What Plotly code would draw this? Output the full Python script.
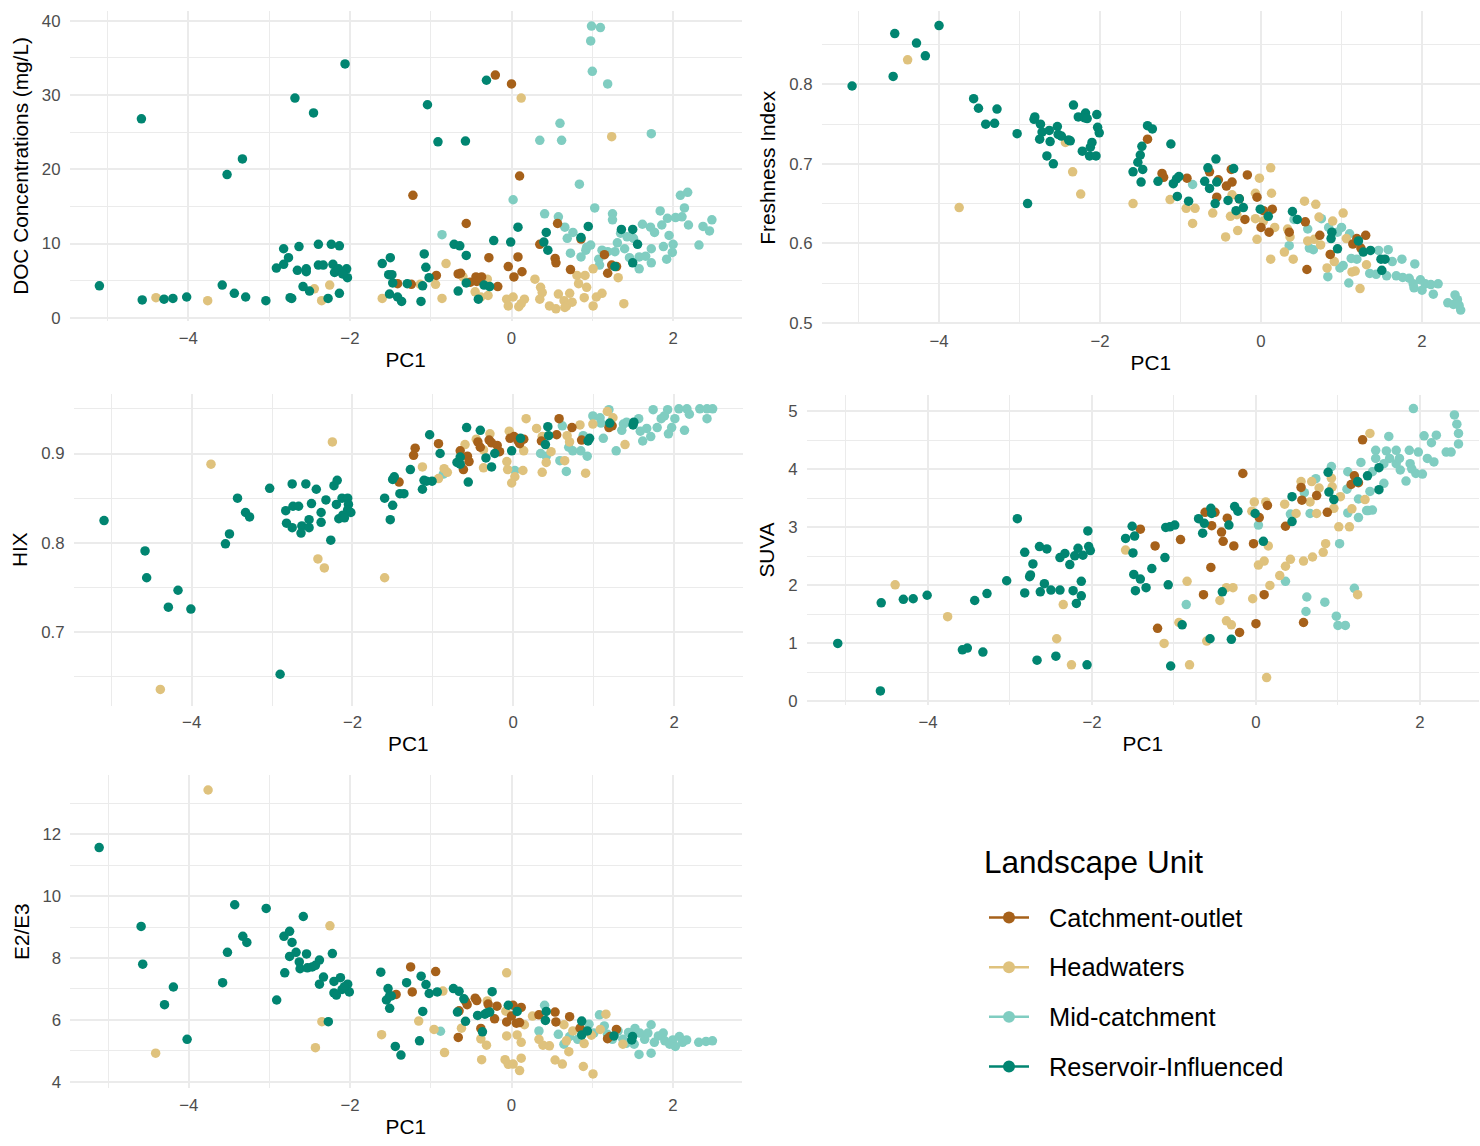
import plotly.graph_objects as go

W, H = 1480, 1146
FONT = "Liberation Sans, Arial, Helvetica, sans-serif"

GROUPS = ["Catchment-outlet", "Headwaters", "Mid-catchment", "Reservoir-Influenced"]
COLORS = {
    "Catchment-outlet": "#A6611A",
    "Headwaters": "#DFC27D",
    "Mid-catchment": "#80CDC1",
    "Reservoir-Influenced": "#018571",
}
DRAW_ORDER = ["Mid-catchment", "Headwaters", "Catchment-outlet", "Reservoir-Influenced"]

# ---------------- DOC concentration vs PC1 : (PC1, DOC mg/L) ----------------
DOC_OUTLET = [(-0.20, 32.7), (0.00, 31.5), (0.10, 19.1), (-1.22, 16.5), (-0.56, 12.7), (-0.28, 8.1),
              (0.08, 8.2), (-0.04, 6.9), (0.03, 5.5), (0.13, 6.2), (0.35, 9.9), (0.57, 12.7), (0.54, 8.0),
              (0.55, 7.4), (0.73, 6.5), (0.86, 10.6), (1.15, 8.5), (1.24, 7.1), (1.19, 6.0), (1.30, 6.9),
              (-1.41, 4.6), (-1.24, 4.5), (-0.93, 5.7), (-0.66, 5.9), (-0.63, 6.0), (-0.51, 4.8),
              (-0.44, 5.5), (-0.37, 5.5), (-0.43, 4.9), (-0.17, 4.2)]
DOC_HEAD = [(-4.40, 2.7), (-3.76, 2.3), (-2.44, 3.9), (-2.25, 4.4), (-2.35, 2.3),
            (0.12, 29.6), (1.24, 24.4), (-1.60, 2.6), (-1.13, 4.5), (-0.94, 4.5), (-0.86, 2.6), (-0.81, 7.3),
            (-0.60, 5.5), (-0.45, 3.5), (-0.38, 2.8), (-0.29, 3.0), (-0.30, 5.2), (-0.06, 2.5), (-0.04, 1.6),
            (0.02, 2.8), (0.09, 1.5), (0.16, 2.5), (0.12, 1.9), (0.29, 5.2), (0.36, 4.1), (0.38, 3.4),
            (0.35, 2.5), (0.47, 1.6), (0.55, 1.2), (0.58, 3.2), (0.65, 2.3), (0.68, 1.6), (0.72, 3.3),
            (0.75, 2.1), (0.81, 5.7), (0.83, 4.6), (0.91, 5.7), (0.93, 4.1), (0.90, 2.7), (1.01, 1.6),
            (1.05, 2.8), (1.12, 3.3), (1.01, 6.6), (1.32, 5.4), (1.39, 1.9), (0.66, 1.4)]
DOC_MID = [(0.99, 39.3), (1.10, 39.1), (0.98, 37.3), (1.00, 33.2), (1.19, 31.5), (0.60, 26.2), (0.35, 23.9),
           (0.62, 23.9), (1.73, 24.8), (0.84, 18.0), (0.02, 15.9), (2.09, 16.5), (2.18, 16.9), (2.14, 14.8),
           (1.03, 14.8), (0.41, 14.0), (0.58, 13.6), (1.25, 14.0), (1.25, 13.2), (1.84, 14.4), (1.93, 13.4),
           (2.03, 13.5), (2.11, 13.6), (2.19, 12.5), (2.48, 13.2), (2.37, 12.3), (2.45, 11.7), (2.32, 9.8),
           (-0.86, 11.2), (0.66, 12.2), (0.76, 11.5), (0.69, 10.7), (0.98, 9.8), (0.92, 9.1), (0.86, 8.2),
           (0.73, 8.7), (1.12, 9.1), (1.19, 8.9), (1.28, 8.9), (1.31, 10.1), (1.35, 11.4), (1.43, 10.9),
           (1.51, 10.7), (1.40, 9.3), (1.46, 8.1), (1.62, 12.6), (1.72, 12.2), (1.77, 11.5), (1.86, 12.5),
           (1.95, 11.1), (2.00, 9.9), (1.88, 9.6), (1.73, 9.3), (1.66, 8.3), (1.58, 8.2), (1.92, 7.9),
           (1.99, 8.8), (1.73, 7.4), (1.58, 6.6), (1.09, 7.1), (1.08, 7.9), (0.93, 9.5)]
DOC_RES = [(-5.10, 4.3), (-4.58, 26.8), (-4.57, 2.4), (-4.30, 2.5), (-4.19, 2.6), (-4.02, 2.8), (-3.52, 19.3),
           (-3.33, 21.4), (-3.58, 4.4), (-3.43, 3.3), (-3.29, 2.8), (-3.04, 2.3), (-2.68, 29.6), (-2.45, 27.6),
           (-2.06, 34.2), (-2.91, 6.7), (-2.82, 7.2), (-2.82, 9.3), (-2.76, 8.1), (-2.63, 9.6), (-2.65, 6.4),
           (-2.54, 6.6), (-2.54, 6.2), (-2.39, 9.9), (-2.23, 9.9), (-2.13, 9.7), (-2.39, 7.1), (-2.33, 7.1),
           (-2.21, 7.2), (-2.19, 6.1), (-2.14, 6.6), (-2.04, 6.6), (-2.03, 5.4), (-2.09, 5.9), (-2.58, 4.2),
           (-2.50, 3.6), (-2.74, 2.7), (-2.72, 2.6), (-2.27, 2.6), (-2.13, 3.3),
           (-1.04, 28.7), (-0.91, 23.7), (-0.57, 23.8), (-0.31, 32.0), (-1.60, 7.3), (-1.50, 8.1), (-1.52, 5.8),
           (-1.48, 5.8), (-1.47, 4.7), (-1.51, 3.2), (-1.41, 2.8), (-1.36, 2.2), (-1.29, 4.6), (-1.12, 2.2),
           (-1.10, 4.3), (-1.08, 8.6), (-1.06, 6.8), (-1.02, 5.4), (-0.71, 9.9), (-0.64, 9.7), (-0.56, 8.4),
           (-0.66, 3.6), (-0.56, 4.7), (-0.41, 2.5), (-0.34, 4.4), (-0.27, 4.2), (-0.22, 10.4), (-0.01, 10.2),
           (0.08, 12.2), (0.40, 10.2), (0.43, 11.5), (0.45, 9.1), (0.95, 12.3), (0.86, 10.8), (1.36, 11.9),
           (1.50, 11.9), (1.56, 9.9), (1.50, 7.4), (1.28, 6.9)]

# ---------------- Freshness index vs PC1 ----------------
FRESH_OUTLET = [(-1.41, 0.731), (-1.23, 0.688), (-1.21, 0.683), (-0.92, 0.682), (-0.64, 0.690), (-0.53, 0.680),
                (-0.55, 0.658), (-0.43, 0.672), (-0.36, 0.677), (-0.37, 0.693), (-0.27, 0.656), (-0.20, 0.630),
                (-0.17, 0.686), (-0.05, 0.658), (0.03, 0.641), (0.14, 0.643), (0.00, 0.620), (0.10, 0.614),
                (0.35, 0.614), (0.55, 0.627), (0.57, 0.567), (0.73, 0.610), (0.86, 0.586), (1.14, 0.599),
                (1.19, 0.606), (1.24, 0.594), (1.30, 0.610)]
FRESH_HEAD = [(-4.39, 0.831), (-3.75, 0.645), (-2.43, 0.727), (-2.34, 0.690), (-2.24, 0.662),
              (-1.59, 0.650), (-1.13, 0.655), (-0.93, 0.644), (-0.82, 0.644), (-0.85, 0.625), (-0.60, 0.638),
              (-0.44, 0.608), (-0.29, 0.616), (-0.38, 0.634), (-0.30, 0.636), (-0.36, 0.661), (-0.07, 0.663),
              (-0.02, 0.682), (0.12, 0.695), (0.13, 0.663), (-0.07, 0.631), (-0.05, 0.605), (0.03, 0.628),
              (0.17, 0.620), (0.12, 0.580), (0.33, 0.618), (0.36, 0.608), (0.29, 0.589), (0.40, 0.580),
              (0.54, 0.653), (0.68, 0.649), (0.72, 0.633), (0.58, 0.603), (0.66, 0.605), (0.74, 0.598),
              (0.82, 0.569), (0.91, 0.577), (0.89, 0.628), (1.02, 0.638), (1.06, 0.606), (1.13, 0.564),
              (1.17, 0.565), (1.23, 0.543), (0.86, 0.586), (1.31, 0.573)]
FRESH_MID = [(-0.85, 0.674), (0.35, 0.597), (0.41, 0.630), (0.58, 0.618), (0.60, 0.594), (0.65, 0.592),
             (0.75, 0.631), (0.84, 0.620), (0.83, 0.558), (0.98, 0.569), (1.02, 0.572), (1.09, 0.550),
             (1.10, 0.612), (1.12, 0.581), (1.19, 0.580), (1.35, 0.562), (1.43, 0.561), (1.46, 0.591),
             (1.58, 0.592), (1.63, 0.577), (1.56, 0.559), (1.68, 0.559), (1.75, 0.580), (1.76, 0.557),
             (1.84, 0.556), (1.91, 0.574), (1.89, 0.549), (1.98, 0.554), (1.90, 0.544), (2.00, 0.541),
             (2.04, 0.549), (2.11, 0.548), (2.20, 0.549), (2.14, 0.536), (2.41, 0.535), (2.44, 0.529),
             (2.32, 0.525), (2.39, 0.523), (2.48, 0.516), (2.46, 0.522), (1.00, 0.620), (0.95, 0.614)]
FRESH_RES = [(-5.08, 0.798), (-4.55, 0.864), (-4.57, 0.810), (-4.28, 0.852), (-4.17, 0.836), (-4.00, 0.874),
             (-3.57, 0.782), (-3.51, 0.770), (-3.28, 0.769), (-3.42, 0.750), (-3.31, 0.751), (-3.03, 0.738),
             (-2.90, 0.650), (-2.81, 0.759), (-2.82, 0.756), (-2.74, 0.750), (-2.72, 0.740), (-2.63, 0.742),
             (-2.75, 0.731), (-2.62, 0.728), (-2.66, 0.710), (-2.58, 0.700), (-2.53, 0.747), (-2.52, 0.737),
             (-2.48, 0.735), (-2.39, 0.730), (-2.37, 0.729), (-2.33, 0.774), (-2.27, 0.759), (-2.18, 0.764),
             (-2.19, 0.758), (-2.16, 0.757), (-2.04, 0.762), (-2.03, 0.746), (-2.01, 0.739), (-2.22, 0.716),
             (-2.12, 0.721), (-2.10, 0.727), (-2.13, 0.710), (-2.05, 0.710),
             (-1.41, 0.748), (-1.35, 0.744), (-1.48, 0.722), (-1.50, 0.711), (-1.53, 0.702), (-1.59, 0.690),
             (-1.47, 0.693), (-1.49, 0.677), (-1.28, 0.678), (-1.12, 0.725), (-1.09, 0.675), (-1.05, 0.681),
             (-1.02, 0.684), (-1.04, 0.659), (-0.90, 0.653), (-0.70, 0.678), (-0.66, 0.695), (-0.64, 0.669),
             (-0.56, 0.706), (-0.55, 0.677), (-0.57, 0.650), (-0.41, 0.654), (-0.34, 0.694), (-0.27, 0.656),
             (-0.22, 0.645), (-0.31, 0.641), (-0.01, 0.643), (0.09, 0.634), (0.39, 0.640), (0.45, 0.630),
             (0.88, 0.614), (0.87, 0.606), (0.95, 0.593), (1.21, 0.603), (1.27, 0.589), (1.36, 0.591),
             (1.49, 0.580), (1.50, 0.566), (1.54, 0.580)]

# ---------------- HIX vs PC1 ----------------
HIX_OUTLET = [(-1.42, 0.868), (-1.24, 0.898), (-1.22, 0.906), (-0.93, 0.911), (-0.66, 0.903), (-0.62, 0.882),
              (-0.57, 0.897), (-0.55, 0.891), (-0.44, 0.913), (-0.41, 0.907), (-0.30, 0.915), (-0.27, 0.912),
              (-0.20, 0.909), (-0.17, 0.902), (-0.04, 0.917), (0.01, 0.919), (0.06, 0.914), (0.08, 0.911),
              (0.13, 0.916), (0.35, 0.914), (0.54, 0.921), (0.57, 0.939), (0.73, 0.929), (0.85, 0.915),
              (1.19, 0.929), (1.23, 0.931)]
HIX_HEAD = [(-4.39, 0.636), (-3.76, 0.888), (-2.25, 0.913), (-2.43, 0.782), (-2.35, 0.772),
            (-1.60, 0.761), (-1.13, 0.885), (-0.93, 0.872), (-0.86, 0.883), (-0.82, 0.879), (-0.60, 0.910),
            (-0.46, 0.916), (-0.37, 0.884), (-0.29, 0.922), (-0.37, 0.904), (-0.08, 0.891), (-0.07, 0.882),
            (0.02, 0.874), (-0.02, 0.867), (-0.05, 0.925), (0.12, 0.881), (0.13, 0.903), (0.16, 0.939),
            (0.29, 0.928), (0.36, 0.919), (0.36, 0.879), (0.41, 0.890), (0.47, 0.902), (0.64, 0.892),
            (0.67, 0.920), (0.83, 0.932), (0.90, 0.878), (1.17, 0.947), (1.24, 0.940), (1.39, 0.910),
            (0.99, 0.933), (0.70, 0.913)]
HIX_MID = [(-0.87, 0.877), (0.02, 0.881), (0.34, 0.900), (0.41, 0.897), (0.58, 0.892), (0.66, 0.880),
           (0.61, 0.931), (0.69, 0.907), (0.74, 0.903), (0.84, 0.903), (0.92, 0.897), (0.87, 0.920),
           (0.99, 0.942), (1.08, 0.940), (1.19, 0.949), (1.09, 0.934), (1.12, 0.917), (1.28, 0.903),
           (1.35, 0.926), (1.41, 0.935), (1.56, 0.939), (1.58, 0.925), (1.61, 0.914), (1.71, 0.919),
           (1.74, 0.949), (1.79, 0.929), (1.84, 0.939), (1.92, 0.949), (1.88, 0.942), (1.93, 0.922),
           (1.97, 0.929), (2.01, 0.939), (2.06, 0.950), (2.16, 0.950), (2.19, 0.944), (2.13, 0.926),
           (2.32, 0.950), (2.41, 0.950), (2.48, 0.950), (2.41, 0.939), (1.37, 0.933), (1.66, 0.928)]
HIX_RES = [(-5.09, 0.825), (-4.58, 0.791), (-4.56, 0.761), (-4.29, 0.728), (-4.17, 0.747), (-4.01, 0.726),
           (-3.58, 0.799), (-3.53, 0.810), (-3.43, 0.850), (-3.33, 0.834), (-3.28, 0.829), (-3.03, 0.861),
           (-2.90, 0.653), (-2.75, 0.866), (-2.58, 0.866), (-2.45, 0.860), (-2.83, 0.836), (-2.74, 0.841),
           (-2.67, 0.841), (-2.51, 0.844), (-2.39, 0.834), (-2.33, 0.848), (-2.82, 0.822), (-2.75, 0.817),
           (-2.63, 0.819), (-2.64, 0.811), (-2.54, 0.826), (-2.54, 0.817), (-2.39, 0.823), (-2.27, 0.803),
           (-2.23, 0.864), (-2.19, 0.870), (-2.20, 0.843), (-2.13, 0.850), (-2.06, 0.850), (-2.05, 0.843),
           (-2.06, 0.837), (-2.02, 0.834), (-2.17, 0.827), (-2.12, 0.831), (-2.10, 0.828),
           (-1.60, 0.850), (-1.50, 0.842), (-1.53, 0.826), (-1.50, 0.871), (-1.48, 0.874), (-1.41, 0.855),
           (-1.36, 0.855), (-1.28, 0.882), (-1.13, 0.860), (-1.11, 0.870), (-1.08, 0.869), (-1.01, 0.869),
           (-1.04, 0.921), (-0.91, 0.900), (-0.70, 0.890), (-0.66, 0.888), (-0.56, 0.868), (-0.58, 0.929),
           (-0.41, 0.926), (-0.34, 0.895), (-0.27, 0.885), (-0.23, 0.900), (-0.02, 0.903), (0.09, 0.917),
           (0.40, 0.910), (0.43, 0.930), (0.44, 0.920), (0.93, 0.914), (0.95, 0.917), (1.20, 0.934),
           (1.49, 0.932), (1.50, 0.935), (-0.66, 0.896)]

# ---------------- SUVA vs PC1 ----------------
SUVA_OUTLET = [(-0.16, 3.93), (-1.41, 2.97), (-1.23, 2.68), (-0.92, 2.79), (-0.55, 2.31), (-0.64, 1.84),
               (-1.20, 1.26), (-0.62, 3.26), (-0.54, 3.03), (-0.50, 3.26), (-0.42, 2.92), (-0.40, 2.76),
               (-0.35, 3.16), (-0.27, 2.68), (-0.03, 2.72), (0.04, 3.17), (0.10, 1.84), (0.00, 1.34),
               (-0.20, 1.19), (0.14, 3.38), (0.36, 3.02), (0.55, 3.69), (0.56, 3.47), (0.58, 1.36),
               (0.74, 3.55), (0.87, 3.26), (1.20, 3.89), (1.16, 3.74), (1.25, 3.77), (1.30, 4.51)]
SUVA_HEAD = [(-4.40, 2.01), (-3.76, 1.46), (-2.35, 1.67), (-2.43, 1.08), (-2.25, 0.63),
             (-1.59, 2.61), (-1.12, 1.00), (-0.94, 1.36), (-0.84, 2.07), (-0.81, 0.63), (-0.60, 1.04),
             (-0.44, 1.74), (-0.36, 1.39), (-0.30, 1.32), (-0.36, 1.96), (-0.28, 1.96), (-0.04, 1.77),
             (-0.02, 3.44), (-0.05, 3.28), (0.03, 2.35), (0.10, 2.42), (0.15, 2.68), (0.13, 0.41),
             (0.12, 3.44), (0.17, 2.00), (0.29, 2.17), (0.36, 2.33), (0.42, 2.45), (0.35, 3.40),
             (0.49, 3.24), (0.55, 3.79), (0.58, 2.42), (0.66, 3.44), (0.69, 2.49), (0.74, 3.24),
             (0.77, 3.68), (0.82, 2.57), (0.85, 2.72), (0.92, 3.85), (0.93, 3.70), (0.95, 3.33),
             (1.01, 3.01), (1.03, 3.53), (1.14, 3.01), (1.17, 3.32), (1.24, 1.84), (1.33, 3.48),
             (1.39, 4.62), (0.68, 3.79)]
SUVA_MID = [(-0.85, 1.67), (0.03, 3.04), (0.36, 2.07), (0.42, 3.23), (0.59, 3.60), (0.66, 3.24), (0.62, 1.80),
            (0.61, 1.55), (0.73, 3.84), (0.84, 1.71), (0.92, 4.05), (0.98, 1.47), (1.00, 1.31), (1.09, 1.31),
            (1.02, 2.72), (1.20, 1.95), (1.12, 3.96), (1.11, 3.66), (1.12, 3.25), (1.25, 3.49), (1.25, 3.17),
            (1.28, 4.12), (1.39, 3.62), (1.35, 3.29), (1.42, 3.30), (1.46, 4.33), (1.46, 4.19), (1.42, 3.96),
            (1.56, 3.76), (1.56, 4.10), (1.59, 4.32), (1.62, 4.57), (1.63, 4.19), (1.71, 4.33), (1.71, 4.10),
            (1.75, 4.19), (1.76, 3.99), (1.83, 3.80), (1.87, 4.33), (1.88, 4.10), (1.90, 4.01), (1.92, 5.05),
            (1.95, 3.93), (1.98, 4.30), (2.03, 3.92), (2.05, 4.58), (2.09, 4.19), (2.14, 4.46), (2.17, 4.13),
            (2.20, 4.59), (2.32, 4.30), (2.38, 4.30), (2.42, 4.94), (2.45, 4.78), (2.47, 4.62), (2.47, 4.44),
            (1.37, 3.29)]
SUVA_RES = [(-5.10, 1.00), (-4.58, 0.18), (-4.57, 1.70), (-4.30, 1.76), (-4.18, 1.77), (-4.01, 1.83),
            (-3.58, 0.89), (-3.52, 0.92), (-3.43, 1.74), (-3.33, 0.85), (-3.28, 1.86), (-3.04, 2.08),
            (-2.91, 3.15), (-2.82, 2.57), (-2.82, 1.87), (-2.72, 2.37), (-2.76, 2.15), (-2.75, 2.18),
            (-2.67, 0.71), (-2.64, 2.67), (-2.63, 1.89), (-2.58, 2.03), (-2.55, 2.63), (-2.50, 1.92),
            (-2.44, 0.78), (-2.39, 2.48), (-2.39, 1.92), (-2.33, 2.55), (-2.27, 2.36), (-2.23, 1.91),
            (-2.21, 2.51), (-2.17, 2.64), (-2.19, 1.69), (-2.13, 2.07), (-2.13, 1.82), (-2.11, 2.52),
            (-2.05, 2.94), (-2.04, 2.67), (-2.02, 2.60), (-2.06, 0.63),
            (-1.51, 3.02), (-1.59, 2.81), (-1.48, 2.85), (-1.50, 2.56), (-1.49, 2.19), (-1.41, 2.11),
            (-1.47, 1.91), (-1.34, 1.96), (-1.27, 2.29), (-1.11, 2.48), (-1.10, 3.00), (-1.05, 3.01),
            (-0.99, 3.04), (-1.07, 2.01), (-0.90, 1.32), (-1.04, 0.61), (-0.70, 3.15), (-0.65, 2.90),
            (-0.63, 3.07), (-0.55, 3.33), (-0.54, 3.24), (-0.56, 1.08), (-0.41, 1.89), (-0.33, 3.04),
            (-0.30, 1.07), (-0.26, 3.36), (-0.22, 3.28), (-0.01, 3.24), (0.09, 2.76), (0.44, 3.53),
            (0.44, 3.10), (0.88, 3.95), (0.89, 3.61), (0.95, 3.48), (1.36, 3.89), (1.50, 3.65),
            (1.50, 4.03), (1.24, 3.79)]

# ---------------- E2/E3 vs PC1 ----------------
E2E3_OUTLET = [(-1.25, 7.71), (-0.94, 7.56), (-1.23, 6.90), (-1.43, 6.82), (-0.65, 6.29), (-0.66, 5.43),
               (-0.57, 6.60), (-0.55, 6.49), (-0.45, 6.70), (-0.43, 6.62), (-0.29, 6.51), (-0.18, 6.44),
               (-0.21, 6.03), (-0.38, 5.72), (0.02, 6.47), (0.12, 6.40), (0.00, 6.12), (-0.06, 5.93),
               (0.06, 5.89), (0.10, 5.91), (0.34, 6.16), (0.54, 6.25), (0.55, 5.93), (0.72, 6.10),
               (0.85, 5.73), (1.19, 5.39), (1.22, 5.46), (1.30, 5.69)]
E2E3_HEAD = [(-4.41, 4.92), (-3.76, 13.43), (-2.43, 5.10), (-2.35, 5.94), (-2.25, 9.04),
             (-1.61, 5.52), (-1.15, 5.96), (-0.96, 5.69), (-0.83, 4.94), (-0.85, 6.93), (-0.62, 5.73),
             (-0.38, 5.38), (-0.31, 5.18), (-0.37, 4.71), (-0.30, 6.61), (-0.06, 7.52), (-0.07, 6.28),
             (-0.06, 5.48), (-0.08, 4.71), (-0.04, 4.56), (0.02, 4.57), (0.10, 4.36), (0.12, 4.76),
             (0.07, 5.51), (0.12, 5.27), (0.16, 5.84), (0.26, 6.12), (0.34, 5.37), (0.39, 5.18),
             (0.47, 5.16), (0.54, 4.70), (0.63, 4.57), (0.65, 5.84), (0.68, 5.32), (0.71, 4.97),
             (0.89, 4.49), (0.90, 5.23), (1.01, 4.25), (1.17, 6.18), (1.10, 5.69), (0.99, 5.50),
             (1.38, 5.21), (0.76, 5.64)]
E2E3_MID = [(-0.88, 5.63), (0.34, 5.64), (0.41, 6.47), (0.58, 5.53), (0.65, 5.21), (0.72, 5.46), (0.82, 5.37),
            (0.96, 5.86), (1.02, 5.57), (1.09, 6.16), (1.15, 5.80), (1.19, 5.53), (1.32, 5.64), (1.38, 5.37),
            (1.45, 5.59), (1.53, 5.72), (1.58, 4.88), (1.59, 5.57), (1.65, 5.37), (1.69, 5.57), (1.73, 5.84),
            (1.73, 4.92), (1.77, 5.27), (1.82, 5.48), (1.88, 5.57), (1.90, 5.32), (1.96, 5.21), (2.00, 5.35),
            (2.03, 5.14), (2.08, 5.46), (2.12, 5.27), (2.17, 5.35), (2.32, 5.27), (2.41, 5.30), (2.49, 5.32),
            (1.52, 5.21), (1.42, 5.24), (1.25, 5.37)]
E2E3_RES = [(-5.11, 11.57), (-4.59, 9.02), (-4.57, 7.80), (-4.19, 7.06), (-4.30, 6.49), (-4.02, 5.37),
            (-3.58, 7.20), (-3.52, 8.18), (-3.43, 9.72), (-3.33, 8.70), (-3.28, 8.50), (-3.04, 9.60),
            (-2.91, 6.64), (-2.82, 8.70), (-2.75, 8.86), (-2.72, 8.50), (-2.81, 7.52), (-2.75, 8.05),
            (-2.67, 8.18), (-2.63, 7.87), (-2.62, 7.65), (-2.58, 9.34), (-2.54, 8.13), (-2.53, 7.68),
            (-2.47, 7.71), (-2.43, 7.76), (-2.38, 7.93), (-2.38, 7.15), (-2.33, 7.38), (-2.22, 8.14),
            (-2.20, 7.24), (-2.20, 6.87), (-2.17, 6.80), (-2.12, 7.36), (-2.10, 6.98), (-2.03, 7.15),
            (-2.01, 6.90), (-2.07, 7.07), (-2.27, 5.94),
            (-1.62, 7.54), (-1.53, 7.01), (-1.55, 6.64), (-1.51, 6.77), (-1.49, 6.77), (-1.51, 6.37),
            (-1.44, 5.14), (-1.37, 4.86), (-1.30, 7.20), (-1.14, 5.32), (-1.12, 7.41), (-1.10, 6.27),
            (-1.06, 7.14), (-1.02, 6.85), (-0.92, 6.90), (-0.72, 7.01), (-0.65, 6.92), (-0.59, 6.68),
            (-0.67, 6.25), (-0.57, 5.95), (-0.42, 6.14), (-0.36, 5.61), (-0.33, 6.18), (-0.30, 6.23),
            (-0.27, 6.25), (-0.24, 6.91), (-0.04, 6.47), (0.07, 6.27), (0.43, 6.27), (0.42, 5.98),
            (0.87, 5.96), (0.87, 5.51), (0.94, 5.64), (1.27, 5.48), (1.50, 5.46), (1.49, 5.35)]

# Panel definitions: pixel box (left, right, top, bottom), axis ranges, y tick spacing
PANELS = [
    dict(ytitle="DOC Concentrations (mg/L)",
         data={"Catchment-outlet": DOC_OUTLET, "Headwaters": DOC_HEAD,
               "Mid-catchment": DOC_MID, "Reservoir-Influenced": DOC_RES},
         box=(69.5, 741.8, 11.3, 323.0), xr=[-5.47, 2.85], yr=[-0.4, 41.3], dy=10, my=5),
    dict(ytitle="Freshness Index",
         data={"Catchment-outlet": FRESH_OUTLET, "Headwaters": FRESH_HEAD,
               "Mid-catchment": FRESH_MID, "Reservoir-Influenced": FRESH_RES},
         box=(821.5, 1480, 11.4, 326.6), xr=[-5.46, 2.72], yr=[0.498, 0.892], dy=0.1, my=0.05),
    dict(ytitle="HIX",
         data={"Catchment-outlet": HIX_OUTLET, "Headwaters": HIX_HEAD,
               "Mid-catchment": HIX_MID, "Reservoir-Influenced": HIX_RES},
         box=(73.5, 743.2, 396.4, 710.5), xr=[-5.47, 2.86], yr=[0.618, 0.967], dy=0.1, my=0.05),
    dict(ytitle="SUVA",
         data={"Catchment-outlet": SUVA_OUTLET, "Headwaters": SUVA_HEAD,
               "Mid-catchment": SUVA_MID, "Reservoir-Influenced": SUVA_RES},
         box=(806.6, 1479, 397.4, 710.4), xr=[-5.48, 2.72], yr=[-0.07, 5.29], dy=1, my=0.5),
    dict(ytitle="E2/E3",
         data={"Catchment-outlet": E2E3_OUTLET, "Headwaters": E2E3_HEAD,
               "Mid-catchment": E2E3_MID, "Reservoir-Influenced": E2E3_RES},
         box=(70.1, 741.5, 780.6, 1095.8), xr=[-5.47, 2.85], yr=[3.79, 13.91], dy=2, my=1),
]

GRID = "#EBEBEB"
TICK_FONT = dict(family=FONT, size=16.8, color="#4D4D4D")
TITLE_FONT = dict(family=FONT, size=20.8, color="#000000")

fig = go.Figure()
layout = {}

for i, p in enumerate(PANELS, start=1):
    xa = "x" if i == 1 else f"x{i}"
    ya = "y" if i == 1 else f"y{i}"
    for g in DRAW_ORDER:
        pts = p["data"][g]
        fig.add_trace(go.Scatter(
            x=[pt[0] for pt in pts], y=[pt[1] for pt in pts],
            mode="markers", xaxis=xa, yaxis=ya, name=g, showlegend=False,
            marker=dict(color=COLORS[g], size=9.5, line=dict(width=0)),
            hoverinfo="x+y+name",
        ))
    left, right, top, bottom = p["box"]
    xkey = "xaxis" if i == 1 else f"xaxis{i}"
    ykey = "yaxis" if i == 1 else f"yaxis{i}"
    layout[xkey] = dict(
        domain=[left / W, right / W], range=p["xr"], anchor=ya,
        tick0=0, dtick=2, showgrid=True, gridcolor=GRID, gridwidth=1.8,
        minor=dict(dtick=1, tick0=0, showgrid=True, gridcolor=GRID, gridwidth=0.9),
        zeroline=False, showline=False, ticks="", tickfont=TICK_FONT,
        ticklabelstandoff=5,
        title=dict(text="PC1", font=TITLE_FONT, standoff=5),
    )
    layout[ykey] = dict(
        domain=[1 - bottom / H, 1 - top / H], range=p["yr"], anchor=xa,
        tick0=0, dtick=p["dy"], showgrid=True, gridcolor=GRID, gridwidth=1.8,
        minor=dict(dtick=p["my"], tick0=0, showgrid=True, gridcolor=GRID, gridwidth=0.9),
        zeroline=False, showline=False, ticks="", tickfont=TICK_FONT,
        ticklabelstandoff=8,
        title=dict(text=p["ytitle"], font=TITLE_FONT, standoff=7),
    )

# Legend panel: title, line-and-point keys, labels (pixel positions in the free lower-right area)
LEGEND_LEFT, LEGEND_TITLE_Y, LEGEND_FIRST_Y, LEGEND_STEP = 982, 868, 924, 50
shapes = []
annotations = [dict(
    text="Landscape Unit", x=LEGEND_LEFT / W, y=1 - LEGEND_TITLE_Y / H,
    xref="paper", yref="paper", xanchor="left", yanchor="middle", showarrow=False,
    font=dict(family=FONT, size=31.5, color="#000000"),
)]
for k, g in enumerate(GROUPS):
    cy = LEGEND_FIRST_Y + k * LEGEND_STEP
    yp = 1 - cy / H
    shapes.append(dict(type="line", xref="paper", yref="paper",
                       x0=989 / W, x1=1029 / W, y0=yp, y1=yp,
                       line=dict(color=COLORS[g], width=2.5)))
    shapes.append(dict(type="circle", xref="paper", yref="paper",
                       x0=(1009 - 6) / W, x1=(1009 + 6) / W, y0=1 - (cy + 6) / H, y1=1 - (cy - 6) / H,
                       fillcolor=COLORS[g], line=dict(width=0)))
    annotations.append(dict(
        text=g, x=1047 / W, y=yp, xref="paper", yref="paper",
        xanchor="left", yanchor="middle", showarrow=False,
        font=dict(family=FONT, size=25.4, color="#000000"),
    ))

fig.update_layout(
    width=W, height=H,
    margin=dict(l=0, r=0, t=0, b=0),
    paper_bgcolor="white", plot_bgcolor="white",
    font=dict(family=FONT),
    showlegend=False,
    shapes=shapes,
    annotations=annotations,
    **layout,
)

fig.write_html("out.html")
